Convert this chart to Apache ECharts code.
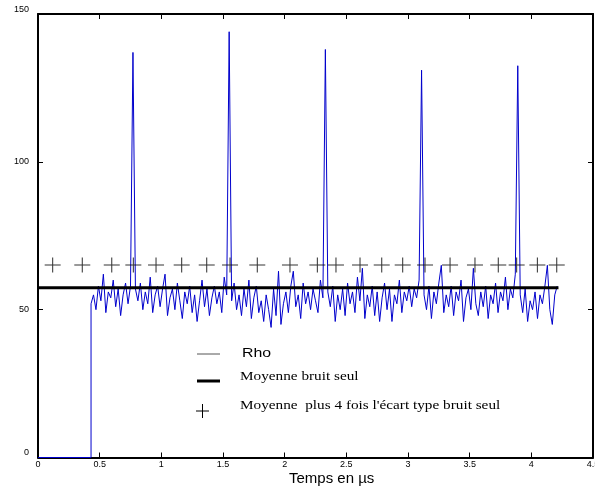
<!DOCTYPE html>
<html>
<head>
<meta charset="utf-8">
<script src="https://cdn.jsdelivr.net/npm/echarts@6/dist/echarts.min.js"></script>
<style>
html,body{margin:0;padding:0;background:#fff;}
#c{width:595px;height:494px;}
</style>
</head>
<body>
<div id="c"></div>
<script>
// x ticks / y ticks
var xTicks = [0, 0.5, 1, 1.5, 2, 2.5, 3, 3.5, 4, 4.5];
var yTicks = [0, 50, 100, 150];

// Rho: flat zero part before the signal starts
var leadT = [0, 0.43];
var leadV = [0, 0];
// Rho sampled every 0.02 µs starting at 0.43 µs
var rhoStart = 0.43;
var rhoStep = 0.02;
var rhoValues = [
  52, 55, 50, 58, 53, 62, 49, 56, 54, 60,
  51, 57, 48, 55, 59, 52, 58, 137, 57, 53,
  59, 50, 56, 52, 61, 49, 55, 58, 51, 57,
  62, 48, 54, 57, 50, 59, 53, 47, 56, 52,
  58, 49, 55, 46, 53, 60, 51, 57, 48, 54,
  58, 52, 56, 49, 61, 55, 144, 53, 59, 50,
  55, 48, 57, 51, 60, 47, 54, 58, 49, 53,
  46, 55, 50, 44, 57, 48, 63, 45, 52, 56,
  49, 58, 63, 51, 55, 47, 59, 52, 56, 50,
  57, 53, 49, 60, 54, 138, 56, 51, 58, 46,
  55, 50, 57, 48, 59, 52, 56, 49, 61, 53,
  64, 47, 55, 51, 58, 48, 56, 46, 54, 59,
  50, 57, 46, 55, 52, 60, 49, 56, 53, 58,
  51, 57, 54, 60, 131, 55, 50, 58, 47, 56,
  52, 59, 65, 49, 55, 51, 58, 48, 56, 53,
  60, 46, 54, 57, 50, 64, 52, 48, 56, 51,
  58, 47, 55, 52, 59, 49, 56, 53, 61, 50,
  57, 54, 62, 132.5, 55, 49, 57, 46, 53, 50,
  56, 47, 55, 52, 58, 65, 50, 45, 55, 58
];

// Moyenne bruit seul
var meanT = [0, 4.22];
var meanValue = 57.4;

// Moyenne plus 4 fois l'écart type
var plusT = [0.119, 0.359, 0.598, 0.773, 0.957, 1.165, 1.368, 1.557, 1.778, 2.043,
             2.265, 2.416, 2.611, 2.787, 2.957, 3.138, 3.341, 3.543, 3.732, 3.881,
             4.049, 4.206];
var plusValue = 65.1;

var rhoData = [];
for (var i = 0; i < leadT.length; i++) rhoData.push([leadT[i], leadV[i]]);
for (var j = 0; j < rhoValues.length; j++) {
  rhoData.push([+(rhoStart + rhoStep * j).toFixed(3), rhoValues[j]]);
}
var meanData = meanT.map(function (t) { return [t, meanValue]; });
var plusData = plusT.map(function (t) { return [t, plusValue]; });

var FONT = '"Liberation Sans", Arial, sans-serif';
var SERIF = '"Liberation Serif", "Times New Roman", serif';

var axisLineStyle = {color: '#000', width: 2};
var tickStyle = {color: '#000', width: 1};

var chart = echarts.init(document.getElementById('c'), null, {renderer: 'canvas'});
chart.setOption({
  animation: false,
  backgroundColor: '#fff',
  grid: {left: 38, right: 2, top: 14, bottom: 36.5, containLabel: false, outerBoundsMode: 'none'},
  xAxis: [{
    type: 'value', position: 'bottom',
    min: xTicks[0], max: xTicks[xTicks.length - 1], interval: xTicks[1] - xTicks[0],
    axisLine: {show: true, onZero: false, lineStyle: axisLineStyle},
    axisTick: {show: true, inside: true, length: 5, lineStyle: tickStyle},
    axisLabel: {show: true, fontSize: 9, margin: 3, color: '#000', fontFamily: FONT},
    splitLine: {show: false}
  }, {
    type: 'value', position: 'top',
    min: xTicks[0], max: xTicks[xTicks.length - 1], interval: xTicks[1] - xTicks[0],
    axisLine: {show: true, onZero: false, lineStyle: axisLineStyle},
    axisTick: {show: true, inside: true, length: 5, lineStyle: tickStyle},
    axisLabel: {show: false},
    splitLine: {show: false}
  }],
  yAxis: [{
    type: 'value', position: 'left',
    min: yTicks[0], max: yTicks[yTicks.length - 1], interval: yTicks[1] - yTicks[0],
    axisLine: {show: true, onZero: false, lineStyle: axisLineStyle},
    axisTick: {show: true, inside: true, length: 5, lineStyle: tickStyle},
    axisLabel: {show: true, fontSize: 9, margin: 9, color: '#000', fontFamily: FONT,
      verticalAlign: 'middle', verticalAlignMinLabel: 'bottom', verticalAlignMaxLabel: 'bottom'},
    splitLine: {show: false}
  }, {
    type: 'value', position: 'right',
    min: yTicks[0], max: yTicks[yTicks.length - 1], interval: yTicks[1] - yTicks[0],
    axisLine: {show: true, onZero: false, lineStyle: axisLineStyle},
    axisTick: {show: true, inside: true, length: 5, lineStyle: tickStyle},
    axisLabel: {show: false},
    splitLine: {show: false}
  }],
  series: [{
    name: 'Rho', type: 'line', xAxisIndex: 0, yAxisIndex: 0,
    data: rhoData, showSymbol: false, symbol: 'none',
    lineStyle: {color: '#0000cc', width: 1},
    z: 2
  }, {
    name: 'Moyenne bruit seul', type: 'line', xAxisIndex: 0, yAxisIndex: 0,
    data: meanData, showSymbol: false, symbol: 'none',
    lineStyle: {color: '#000', width: 3},
    z: 3
  }, {
    name: "Moyenne plus 4 fois l'écart type bruit seul", type: 'scatter', xAxisIndex: 0, yAxisIndex: 0,
    data: plusData,
    symbol: 'path://M0,8L16,8M8,0L8,16',
    symbolSize: [16, 15],
    itemStyle: {color: 'rgba(0,0,0,0)', borderColor: '#000', borderWidth: 1},
    z: 4
  }],
  graphic: [
    {type: 'line', shape: {x1: 197, y1: 354, x2: 220, y2: 354}, style: {stroke: '#555', lineWidth: 1}},
    {type: 'text', x: 242, y: 353, scaleX: 1.22,
      style: {text: 'Rho', fontSize: 13, fontFamily: FONT, fill: '#000', verticalAlign: 'middle', align: 'left'}},
    {type: 'line', shape: {x1: 197, y1: 381, x2: 220, y2: 381}, style: {stroke: '#000', lineWidth: 3}},
    {type: 'text', x: 240, y: 377, scaleX: 1.22,
      style: {text: 'Moyenne bruit seul', fontSize: 12.5, fontFamily: SERIF, fill: '#000', verticalAlign: 'middle', align: 'left'}},
    {type: 'line', shape: {x1: 196, y1: 411, x2: 209, y2: 411}, style: {stroke: '#000', lineWidth: 1}},
    {type: 'line', shape: {x1: 202.5, y1: 404, x2: 202.5, y2: 418}, style: {stroke: '#000', lineWidth: 1}},
    {type: 'text', x: 240, y: 405.5, scaleX: 1.22,
      style: {text: "Moyenne  plus 4 fois l'écart type bruit seul", fontSize: 12.5, fontFamily: SERIF, fill: '#000', verticalAlign: 'middle', align: 'left'}},
    {type: 'text', x: 289, y: 479,
      style: {text: 'Temps en µs', fontSize: 15, fontFamily: FONT, fill: '#000', verticalAlign: 'middle', align: 'left'}}
  ]
});
</script>
</body>
</html>
